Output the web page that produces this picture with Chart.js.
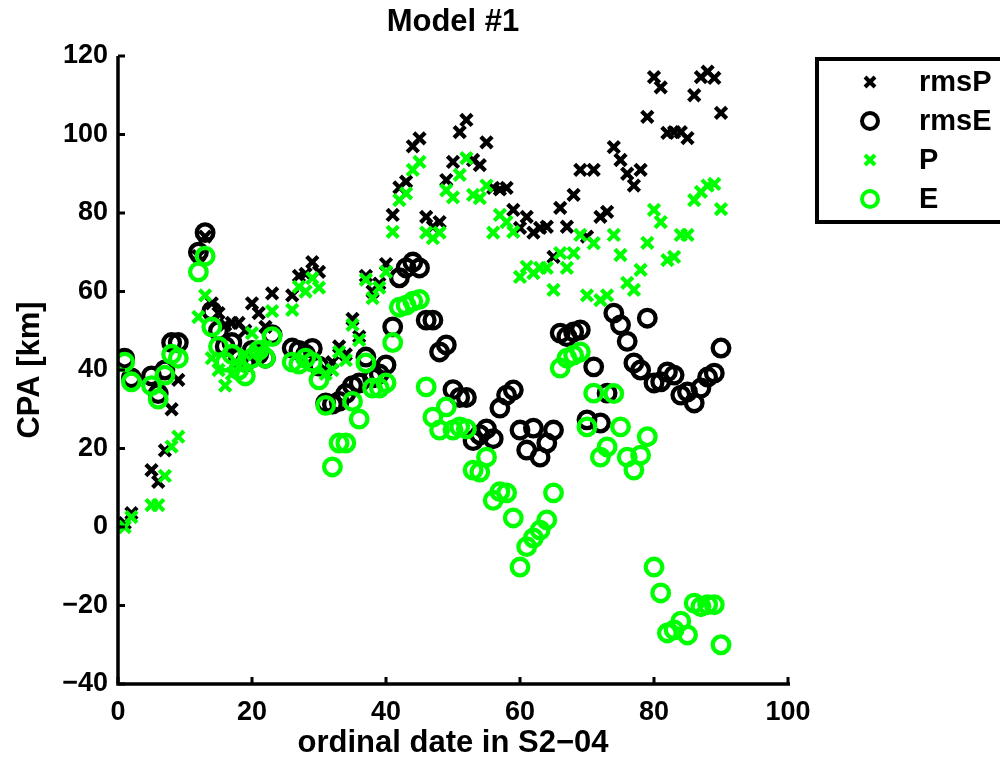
<!DOCTYPE html>
<html>
<head>
<meta charset="utf-8">
<script src="https://cdn.jsdelivr.net/npm/chart.js@4.4.0/dist/chart.umd.min.js"></script>
<style>
html, body { margin: 0; padding: 0; background: #fff; }
#wrap { width: 1000px; height: 763px; }
</style>
</head>
<body>
<div id="wrap"><canvas id="cpaChart" width="1000" height="763"></canvas></div>
<script>
// ordinal dates that have data
var days = [1, 2, 5, 6, 7, 8, 9,
    12, 13, 14, 15, 16, 17, 18, 19, 20, 21, 22, 23,
    26, 27, 28, 29, 30, 31, 32, 33, 34, 35, 36, 37, 38, 39, 40,
    41, 42, 43, 44, 45, 46, 47, 48, 49, 50, 51, 52, 53, 54, 55, 56, 57, 58, 59, 60,
    61, 62, 63, 64, 65, 66, 67, 68, 69, 70, 71, 72, 73, 74, 75, 76, 77, 78, 79, 80,
    81, 82, 83, 84, 85, 86, 87, 88, 89, 90];

var rmsP = [1, 3.5, 14.5, 11.5, 19.5, 30, 37.5,
    69, 74, 57, 54.5, 51.5, 52, 52, 50, 57, 54.5, 51, 59.5,
    59, 64, 64.5, 67.5, 65, 40, 42, 46, 44, 53, 48.5, 64, 60, 62, 67,
    79.5, 86.5, 88, 97, 99, 79, 76.5, 77.7, 88.4, 93, 100.6, 103.7, 93.5, 92.2, 98, 86.4, 86, 86.4, 80.8, 76.2,
    79, 75, 76.2, 76.5, 68.8, 81.3, 76.5, 84.6, 91, 74, 91, 79, 80.3, 96.8, 93.5, 90, 87, 91, 104.5, 114.6,
    112, 100.4, 100.6, 100.6, 99.1, 110, 114.6, 116, 114.4, 105.5];

var rmsE = [43, 38, 38.5, 34, 40, 47, 47,
    70, 75, 55, 50, 46, 47, 43, 42, 45, 44, 43, 49,
    45.6, 45, 44, 45.5, 41, 31.6, 31.3, 32, 34, 36, 36.7, 43.3, 38, 39, 41.3,
    51, 63.5, 66, 67.5, 66, 52.7, 52.7, 44.6, 46.4, 35, 33, 33, 22, 23.5, 25, 22.5, 30.3, 33.6, 34.9, 24.7,
    19.6, 25.2, 17.8, 21.4, 24.7, 49.4, 48.5, 49.7, 50.2, 27.3, 40.8, 26.5, 34.1, 54.5, 51.5, 47.3, 41.8, 40, 53.2, 36.7,
    37, 39.5, 38.7, 33.6, 34.4, 31.6, 35.4, 38.2, 39.2, 45.6];

var P = [0, 2.5, 5.6, 5.6, 13, 20.5, 23,
    53.5, 59, 43, 40, 36, 39, 41, 44, 49.4, 45, 46, 55,
    55.3, 61.2, 60, 63.4, 61, 39, 40, 44.6, 42.5, 51.5, 47.6, 63, 58.3, 61, 65,
    75.2, 83.3, 85, 91, 93, 75, 73.6, 75, 85.8, 84, 89.7, 94, 84.6, 83.8, 87, 75, 79.5, 77.7, 75.2, 63.7,
    66.3, 64.7, 66, 66, 60.4, 69.8, 66, 69.8, 74.4, 59, 72.3, 57.8, 59, 74.4, 69.3, 62.2, 60.4, 65.5, 72.4, 80.8,
    77.7, 68, 68.8, 74.4, 74.4, 83.3, 85.4, 87, 87.4, 81];

var E = [42, 37, 36, 32.6, 38.7, 44, 43,
    65, 69, 51, 46, 42, 44, 40, 38.5, 43, 45, 43, 48.5,
    42, 41.5, 43, 42, 37.5, 31, 15.3, 21.4, 21.4, 32, 27.5, 41.8, 35.4, 35.4, 36.7,
    47, 56, 56.5, 57.5, 58, 35.7, 28, 24.7, 30.6, 24.7, 25.5, 25, 14.5, 14, 17.8, 6.8, 9, 8.7, 2.3, -10.2,
    -5, -2.8, -0.8, 1.8, 8.7, 40.5, 43, 43.8, 44.6, 25.5, 34.1, 17.8, 20.4, 34, 25.5, 17.8, 14.5, 18.3, 23, -10.2,
    -16.8, -27, -26.2, -24, -27.5, -19.4, -20.3, -19.8, -19.8, -30];

var xTicks = [0, 20, 40, 60, 80, 100];
var yTicks = [-40, -20, 0, 20, 40, 60, 80, 100, 120];

var FONT = "'Liberation Sans', Arial, Helvetica, sans-serif";
var GREEN = '#00ff00';

function pts(vals) {
    return days.map(function (d, i) { return {x: d, y: vals[i]}; });
}

function minus(v) {
    return String(v).replace('-', '\u2212');
}

// title, axis lines, inward ticks, axis titles and the legend box
var decor = {
    id: 'decor',
    afterDraw: function (chart) {
        var ctx = chart.ctx, a = chart.chartArea;
        var xs = chart.scales.x, ys = chart.scales.y;
        ctx.save();
        ctx.strokeStyle = '#000';
        ctx.lineWidth = 3.5;
        ctx.lineCap = 'butt';
        ctx.beginPath();
        ctx.moveTo(a.left, a.top);
        ctx.lineTo(a.left, a.bottom);
        ctx.lineTo(a.right + 2, a.bottom);
        ctx.stroke();

        ctx.lineWidth = 3;
        yTicks.forEach(function (v) {
            var py = ys.getPixelForValue(v);
            ctx.beginPath();
            ctx.moveTo(a.left, py);
            ctx.lineTo(a.left + 7, py);
            ctx.stroke();
        });
        xTicks.forEach(function (v) {
            var px = xs.getPixelForValue(v);
            ctx.beginPath();
            ctx.moveTo(px, a.bottom);
            ctx.lineTo(px, a.bottom - 7);
            ctx.stroke();
        });

        ctx.fillStyle = '#000';
        ctx.textAlign = 'center';
        ctx.textBaseline = 'middle';
        ctx.font = 'bold 31px ' + FONT;
        ctx.fillText('Model #1', (a.left + a.right) / 2, 22);
        ctx.fillText('ordinal date in S2\u221204', (a.left + a.right) / 2, 743);
        ctx.save();
        ctx.translate(30, (a.top + a.bottom) / 2);
        ctx.rotate(-Math.PI / 2);
        ctx.fillText('CPA [km]', 0, 0);
        ctx.restore();

        // legend
        ctx.lineWidth = 4;
        ctx.strokeRect(817, 59, 200, 163);
        var rows = [
            {label: 'rmsP', color: '#000', cross: true},
            {label: 'rmsE', color: '#000', cross: false},
            {label: 'P', color: GREEN, cross: true},
            {label: 'E', color: GREEN, cross: false}
        ];
        ctx.textAlign = 'left';
        ctx.font = 'bold 29px ' + FONT;
        rows.forEach(function (r, i) {
            var cy = 82 + i * 39, cx = 870;
            ctx.strokeStyle = r.color;
            ctx.lineWidth = 4;
            ctx.beginPath();
            if (r.cross) {
                ctx.moveTo(cx - 5, cy - 5); ctx.lineTo(cx + 5, cy + 5);
                ctx.moveTo(cx + 5, cy - 5); ctx.lineTo(cx - 5, cy + 5);
            } else {
                ctx.arc(cx, cy, 8, 0, Math.PI * 2);
            }
            ctx.stroke();
            ctx.fillStyle = '#000';
            ctx.fillText(r.label, 919, cy + 1);
        });
        ctx.restore();
    }
};

var ctx = document.getElementById('cpaChart');

var cpaChart = new Chart(ctx, {
    type: 'scatter',
    data: {
        datasets: [{
            label: 'rmsP',
            data: pts(rmsP),
            pointStyle: 'crossRot',
            radius: 8,
            hoverRadius: 8,
            borderColor: '#000',
            borderWidth: 4.2,
            order: 4
        }, {
            label: 'rmsE',
            data: pts(rmsE),
            pointStyle: 'circle',
            radius: 8.3,
            hoverRadius: 8.3,
            borderColor: '#000',
            backgroundColor: 'rgba(0,0,0,0)',
            borderWidth: 4.3,
            order: 3
        }, {
            label: 'P',
            data: pts(P),
            pointStyle: 'crossRot',
            radius: 8,
            hoverRadius: 8,
            borderColor: GREEN,
            borderWidth: 4.2,
            order: 2
        }, {
            label: 'E',
            data: pts(E),
            pointStyle: 'circle',
            radius: 8.3,
            hoverRadius: 8.3,
            borderColor: GREEN,
            backgroundColor: 'rgba(0,0,0,0)',
            borderWidth: 4.3,
            order: 1
        }]
    },
    options: {
        responsive: false,
        animation: false,
        devicePixelRatio: 1,
        layout: {padding: {top: 56, right: 212, left: 0, bottom: 0}},
        plugins: {
            legend: {display: false},
            tooltip: {enabled: false}
        },
        scales: {
            x: {
                type: 'linear',
                min: 0,
                max: 100,
                afterFit: function (s) { s.height = 79; },
                afterBuildTicks: function (s) { s.ticks = xTicks.map(function (v) { return {value: v}; }); },
                grid: {display: false, drawTicks: false},
                border: {display: false},
                ticks: {
                    color: '#000',
                    padding: 12,
                    font: {family: FONT, size: 27, weight: 'bold'},
                    callback: minus
                }
            },
            y: {
                type: 'linear',
                min: -40,
                max: 120,
                afterFit: function (s) { s.width = 118; },
                afterBuildTicks: function (s) { s.ticks = yTicks.map(function (v) { return {value: v}; }); },
                grid: {display: false, drawTicks: false},
                border: {display: false},
                ticks: {
                    color: '#000',
                    padding: 10,
                    font: {family: FONT, size: 27, weight: 'bold'},
                    callback: minus
                }
            }
        }
    },
    plugins: [decor]
});
</script>
</body>
</html>
